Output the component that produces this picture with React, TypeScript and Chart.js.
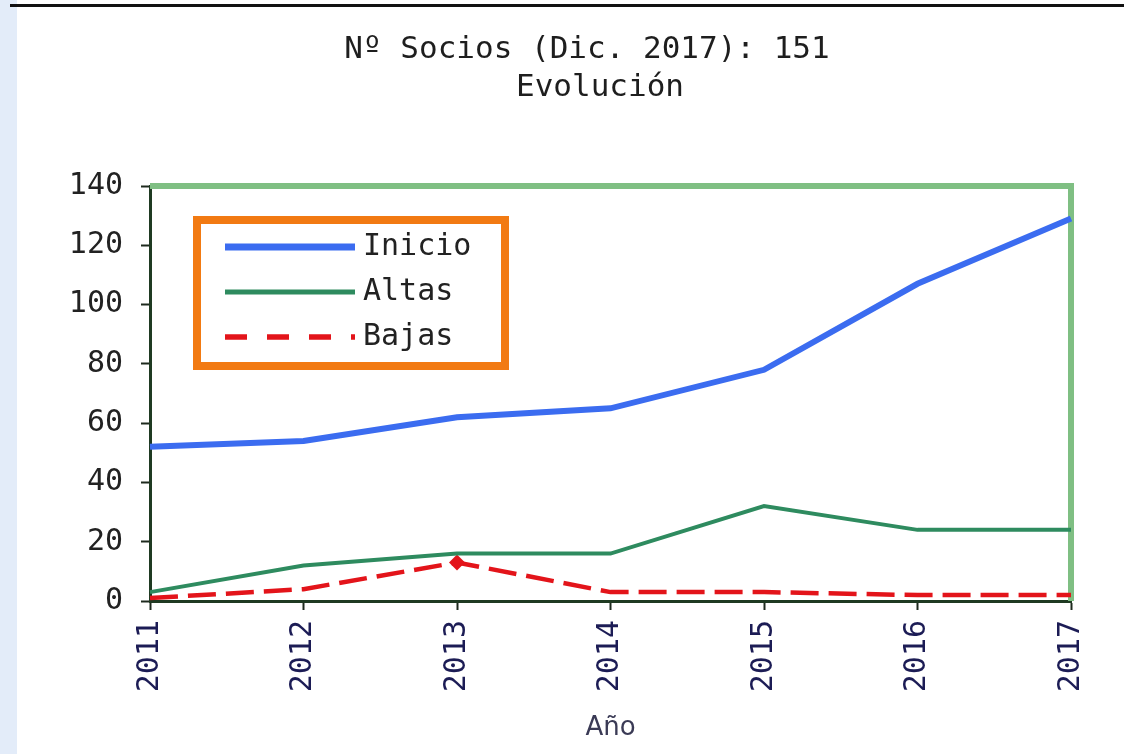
import React, { useEffect, useRef } from 'react';
import { Chart, registerables } from 'chart.js';

Chart.register(...registerables);

const years = ['2011', '2012', '2013', '2014', '2015', '2016', '2017'];
const inicio = [52, 54, 62, 65, 78, 107, 129];
const altas = [3, 12, 16, 16, 32, 24, 24];
const bajas = [1, 4, 13, 3, 3, 2, 2];
const bajasMarkers = [0, 0, 8, 0, 0, 0, 0];
const yMin = 0;
const yMax = 140;
const yStep = 20;
const titleLines = ['Nº Socios (Dic. 2017): 151', 'Evolución'];
const xTitle = 'Año';

const MONO = '"DejaVu Sans Mono", monospace';

const titlePlugin = {
  id: 'twoLineTitle',
  afterDraw(chart: any) {
    const { ctx } = chart;
    const centers = [587, 600];
    const rows = [50, 88];
    ctx.save();
    ctx.font = `31px ${MONO}`;
    ctx.fillStyle = '#1e1e1e';
    ctx.textAlign = 'center';
    ctx.textBaseline = 'middle';
    titleLines.forEach((t, i) => ctx.fillText(t, centers[i], rows[i]));
    ctx.restore();
  },
};

const framePlugin = {
  id: 'greenFrame',
  beforeDatasetsDraw(chart: any) {
    const { ctx, chartArea: a } = chart;
    ctx.save();
    ctx.strokeStyle = '#7fbf83';
    ctx.lineWidth = 6;
    ctx.beginPath();
    ctx.moveTo(a.left, a.top);
    ctx.lineTo(a.right, a.top);
    ctx.lineTo(a.right, a.bottom);
    ctx.stroke();
    ctx.restore();
  },
};

const legendPlugin = {
  id: 'boxLegend',
  afterDatasetsDraw(chart: any) {
    const { ctx, chartArea: a } = chart;
    const x = a.left + 47;
    const y = a.top + 34;
    const w = 308;
    const h = 146;
    ctx.save();
    ctx.fillStyle = '#ffffff';
    ctx.fillRect(x, y, w, h);
    ctx.strokeStyle = '#f27a12';
    ctx.lineWidth = 8;
    ctx.strokeRect(x, y, w, h);
    ctx.font = `30px ${MONO}`;
    ctx.textBaseline = 'middle';
    ctx.fillStyle = '#222';
    chart.data.datasets.forEach((ds: any, i: number) => {
      const cy = y + 27 + i * 45;
      ctx.save();
      ctx.strokeStyle = ds.borderColor;
      ctx.lineWidth = ds.borderWidth + 1;
      ctx.setLineDash(ds.borderDash ? [22, 20] : []);
      ctx.beginPath();
      ctx.moveTo(x + 28, cy);
      ctx.lineTo(x + 158, cy);
      ctx.stroke();
      ctx.restore();
      ctx.fillText(ds.label, x + 166, cy);
    });
    ctx.restore();
  },
};

function ChartView() {
  const ref = useRef<HTMLCanvasElement>(null);
  useEffect(() => {
    if (!ref.current) return;
    const chart = new Chart(ref.current, {
      type: 'line',
      data: {
        labels: years,
        datasets: [
          {
            label: 'Inicio',
            data: inicio,
            borderColor: '#3b6cf0',
            borderWidth: 6,
            pointRadius: 0,
            tension: 0,
          },
          {
            label: 'Altas',
            data: altas,
            borderColor: '#2e8b5f',
            borderWidth: 4,
            pointRadius: 0,
            tension: 0,
          },
          {
            label: 'Bajas',
            data: bajas,
            borderColor: '#e3141a',
            backgroundColor: '#e3141a',
            borderWidth: 4.5,
            borderDash: [28, 10],
            pointRadius: bajasMarkers,
            pointStyle: 'rectRot',
            pointBorderWidth: 0,
            pointBackgroundColor: '#e3141a',
            tension: 0,
          },
        ],
      },
      options: {
        responsive: false,
        animation: false,
        events: [],
        layout: { padding: { left: 0, right: 53, top: 186, bottom: 0 } },
        plugins: {
          legend: { display: false },
          tooltip: { enabled: false },
          title: { display: false },
        },
        scales: {
          x: {
            offset: false,
            afterFit: (s: any) => { s.height = 153; },
            grid: { drawOnChartArea: false, drawTicks: true, tickLength: 9, tickWidth: 2, color: '#1e2a1e' },
            border: { display: true, color: '#1f3a22', width: 3 },
            ticks: {
              color: '#1c1c55',
              font: { family: MONO, size: 30 },
              minRotation: 90,
              maxRotation: 90,
              padding: 10,
              autoSkip: false,
            },
            title: {
              display: true,
              text: xTitle,
              color: '#3a3a55',
              font: { family: '"DejaVu Sans", sans-serif', size: 26 },
              padding: { top: 0, bottom: 10 },
            },
          },
          y: {
            min: yMin,
            max: yMax,
            afterFit: (s: any) => { s.width = 150; },
            grid: { drawOnChartArea: false, drawTicks: true, tickLength: 9, tickWidth: 2, color: '#1e2a1e' },
            border: { display: true, color: '#1f3a22', width: 3 },
            ticks: {
              stepSize: yStep,
              color: '#222',
              font: { family: MONO, size: 30 },
              padding: 18,
            },
          },
        },
      },
      plugins: [framePlugin, legendPlugin, titlePlugin],
    } as any);
    return () => chart.destroy();
  }, []);
  return <canvas ref={ref} width={1124} height={754} style={{ display: 'block' }} />;
}

export default function App() {
  return (
    <div style={{ position: 'fixed', left: 0, top: 0, width: 1124, height: 754, background: '#ffffff', overflow: 'hidden' }}>
      <div style={{ position: 'absolute', left: 0, top: 0, width: 17, height: 754, background: '#e3ecf9' }} />
      <div style={{ position: 'absolute', left: 10, top: 4, width: 1114, height: 3, background: '#111' }} />
      <div style={{ position: 'absolute', left: 0, top: 0 }}>
        <ChartView />
      </div>
    </div>
  );
}
